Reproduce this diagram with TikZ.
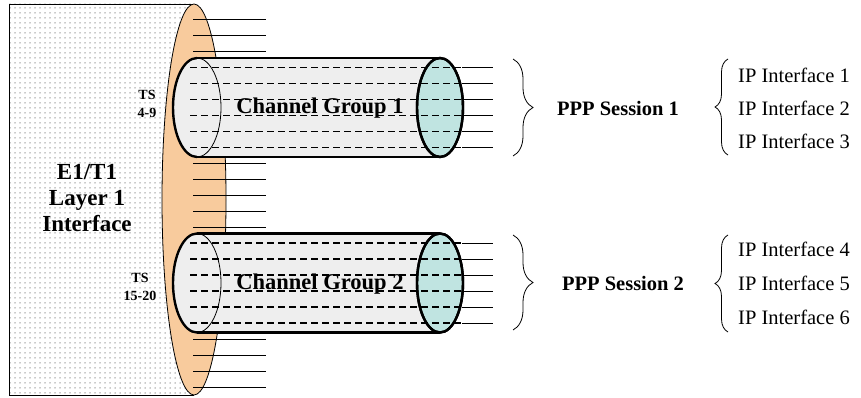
\documentclass[tikz,border=0pt]{standalone}
\usepackage{fontspec}
\setmainfont{Liberation Serif}
\usetikzlibrary{patterns.meta,decorations.pathreplacing}
\definecolor{orangefill}{HTML}{F8CB9D}
\definecolor{tealfill}{HTML}{C0E4E1}
\definecolor{tubefill}{HTML}{EEEEEE}
\begin{document}
\begin{tikzpicture}[x=1pt,y=-1pt,
  thinline/.style={line width=0.8pt},
  thickline/.style={line width=2.4pt},
  dashline/.style={line width=1.3pt, dash pattern=on 7pt off 4pt},
  tubelabel/.style={font=\bfseries\fontsize{22.5}{22.5}\selectfont, text=black, inner sep=0pt},
  bigbold/.style={font=\bfseries\fontsize{23}{26}\selectfont, align=center, inner sep=0pt},
  tslabel/.style={font=\bfseries\fontsize{14}{18}\selectfont, align=center, inner sep=0pt},
  ppplabel/.style={font=\bfseries\fontsize{20.5}{20.5}\selectfont, inner sep=0pt},
  iplabel/.style={font=\fontsize{20.5}{20.5}\selectfont, anchor=west, inner sep=0pt},
  bracedeco/.style={decorate, thinline, decoration={brace, amplitude=#1}}
]
\useasboundingbox (0,0) rectangle (861,398);

% E1/T1 panel
\fill[pattern={Dots[distance=5pt,radius=0.75pt]}, pattern color=gray!85] (9,4) rectangle (194,395);
\draw[thinline] (194,4) -- (9,4) -- (9,395) -- (194,395);

% orange layer-1 ellipse
\draw[thinline, fill=orangefill] (194,199.5) ellipse [x radius=32, y radius=195.5];

% unused timeslots
\foreach \y in {19,35,51,163,179,195,211,227,339,355,371,387}
  \draw[thinline] (193,\y) -- (266,\y);

% channel group tubes
\foreach \cy/\lab in {107.5/1, 283/2} {
  \fill[tubefill] (197,\cy-49.5) rectangle (440,\cy+49.5);
  \fill[tubefill] (197,\cy) ellipse [x radius=24, y radius=49.5];
  \draw[thinline] (197,\cy) ellipse [x radius=24, y radius=49.5];
  \draw[thickline, fill=tealfill] (440,\cy) ellipse [x radius=23, y radius=49.5];
  \foreach \d in {-40,-24,-8,8,24,40} {
    \draw[dashline] (190,\cy+\d) -- (462,\cy+\d);
    \draw[thinline] (462,\cy+\d) -- (493,\cy+\d);
  }
  \draw[thickline] (197,\cy-49.5) -- (440,\cy-49.5);
  \draw[thickline] (197,\cy+49.5) -- (440,\cy+49.5);
  \draw[thickline] (197,\cy-49.5) arc [start angle=270, end angle=90, x radius=24, y radius=49.5];
  \draw[thickline] (440,\cy) ellipse [x radius=23, y radius=49.5];
  \node[tubelabel] (cg\lab) at (320,\cy+1) {Channel Group \lab};
}

% labels
\node[bigbold] (layer) at (87,198) {E1/T1\\Layer 1\\Interface};
\node[tslabel] (ts1) at (147,104) {TS\\4-9};
\node[tslabel] (ts2) at (140,287) {TS\\15-20};

% session 1
\draw[bracedeco=20pt] (513,59) -- (513,156);
\node[ppplabel] (ppp1) at (618,108) {PPP Session 1};
\draw[bracedeco=13pt] (728,155) -- (728,59);
\node[iplabel] (ip1) at (738,75) {IP Interface 1};
\node[iplabel] (ip2) at (738,108) {IP Interface 2};
\node[iplabel] (ip3) at (738,141) {IP Interface 3};

% session 2
\draw[bracedeco=20pt] (513,235) -- (513,330);
\node[ppplabel] (ppp2) at (623,283) {PPP Session 2};
\draw[bracedeco=13pt] (728,332) -- (728,235);
\node[iplabel] (ip4) at (738,249) {IP Interface 4};
\node[iplabel] (ip5) at (738,283) {IP Interface 5};
\node[iplabel] (ip6) at (738,317) {IP Interface 6};
\end{tikzpicture}
\end{document}
